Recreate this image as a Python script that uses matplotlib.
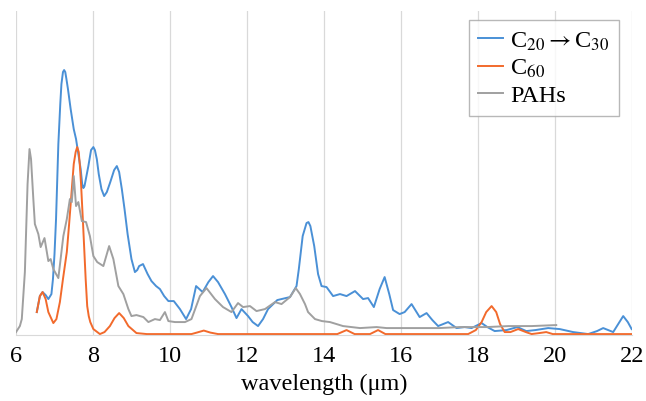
import matplotlib
matplotlib.use("Agg")
import matplotlib.pyplot as plt

lam_c20 = [6.54, 6.62, 6.69, 6.77, 6.84, 6.92, 6.96, 7.0, 7.04, 7.1, 7.15, 7.18, 7.22, 7.25, 7.28,
           7.31, 7.35, 7.42, 7.5, 7.56, 7.62, 7.68, 7.72, 7.75, 7.78, 7.83, 7.88, 7.95, 8.01, 8.05,
           8.1, 8.15, 8.22, 8.29, 8.36, 8.45, 8.55, 8.62, 8.68, 8.75, 8.82, 8.9, 9.0, 9.09, 9.15,
           9.2, 9.3, 9.42, 9.52, 9.64, 9.74, 9.85, 9.96, 10.1, 10.26, 10.42, 10.55, 10.68, 10.85,
           11.0, 11.12, 11.25, 11.43, 11.6, 11.73, 11.86, 12.03, 12.15, 12.29, 12.42, 12.55, 12.79,
           13.12, 13.29, 13.35, 13.45, 13.55, 13.6, 13.65, 13.75, 13.85, 13.94, 14.07, 14.24, 14.42,
           14.59, 14.81, 15.02, 15.15, 15.3, 15.45, 15.58, 15.7, 15.8, 15.97, 16.1, 16.28, 16.49,
           16.67, 16.82, 16.97, 17.1, 17.23, 17.45, 17.66, 17.84, 18.1, 18.25, 18.44, 18.75, 19.03,
           19.26, 19.5, 19.83, 20.13, 20.48, 20.87, 21.1, 21.26, 21.52, 21.65, 21.78, 21.9, 22.0]
int_c20 = [22, 38, 42, 39, 35, 40, 55, 80, 115, 190, 230, 250, 262, 264, 262,
           255, 245, 225, 205, 195, 180, 165, 150, 146, 148, 158, 168, 184, 187, 184,
           175, 160, 145, 138, 142, 152, 164, 168, 162, 145, 125, 100, 75, 62, 64,
           68, 70, 60, 53, 48, 45, 38, 33, 33, 25, 15, 25, 48, 42,
           52, 58, 52, 40, 27, 16, 25, 18, 12, 8, 15, 25, 34,
           37, 48, 65, 98, 111, 112, 108, 88, 60, 48, 47, 38, 40,
           38, 43, 35, 36, 27, 45, 57, 40, 24, 20, 22, 30, 17,
           21, 14, 8, 10, 12, 6, 7, 6, 11, 7, 3, 4, 7,
           3, 4, 6, 5, 2, 0, 3, 6, 2, 10, 18, 12, 5]

lam_c60 = [6.54, 6.62, 6.69, 6.77, 6.84, 6.97, 7.05, 7.14, 7.22, 7.32, 7.38, 7.45, 7.5, 7.55, 7.59,
           7.63, 7.66, 7.69, 7.74, 7.81, 7.85, 7.89, 7.93, 8.01, 8.18, 8.3, 8.44, 8.56, 8.68, 8.8,
           8.92, 9.13, 9.4, 10.56, 10.7, 10.88, 11.05, 11.25, 14.35, 14.59, 14.8, 15.2, 15.41, 15.6,
           17.75, 17.95, 18.1, 18.22, 18.36, 18.48, 18.58, 18.7, 18.85, 19.05, 19.25, 19.4, 19.6,
           19.78, 19.95, 22.0]
int_c60 = [22, 38, 42, 35, 22, 11, 15, 32, 55, 82, 110, 145, 170, 182, 187,
           182, 168, 150, 112, 55, 28, 18, 12, 5, 0, 2, 8, 16, 21, 16,
           8, 1, 0, 0, 1.5, 3.5, 1.5, 0, 0, 4, 0, 0, 4, 0,
           0, 4, 12, 22, 28, 22, 10, 2, 2, 5, 2, 0, 1,
           2, 0, 0]

lam_pah = [6.0, 6.1, 6.15, 6.23, 6.3, 6.35, 6.39, 6.45, 6.49, 6.58, 6.64, 6.74, 6.84, 6.9, 6.97,
           7.1, 7.23, 7.32, 7.4, 7.45, 7.5, 7.56, 7.62, 7.71, 7.82, 7.92, 8.01, 8.11, 8.27, 8.42,
           8.53, 8.66, 8.79, 8.92, 9.0, 9.13, 9.31, 9.44, 9.61, 9.74, 9.87, 9.96, 10.13, 10.39,
           10.56, 10.78, 10.95, 11.17, 11.38, 11.6, 11.77, 11.9, 12.08, 12.25, 12.47, 12.73, 12.9,
           13.12, 13.27, 13.38, 13.51, 13.59, 13.77, 13.95, 14.16, 14.5, 14.94, 15.37, 15.63, 16.0,
           16.49, 17.0, 17.53, 18.23, 18.8, 19.4, 20.04]
int_pah = [2, 8, 15, 62, 150, 185, 175, 135, 110, 100, 87, 96, 73, 75, 65,
           56, 98, 115, 135, 132, 158, 128, 132, 113, 112, 98, 78, 72, 68, 88,
           75, 48, 40, 25, 18, 19, 17, 12, 15, 14, 22, 13, 12, 12,
           15, 38, 46, 35, 27, 22, 31, 27, 28, 23, 25, 32, 30,
           37, 46, 40, 30, 22, 15, 13, 12, 8, 6, 7, 6, 6,
           6, 6, 7, 7, 8, 8, 9]

xticks = [6, 8, 10, 12, 14, 16, 18, 20, 22]

plt.rcParams['font.family'] = ['Liberation Serif', 'DejaVu Serif']
plt.rcParams['mathtext.fontset'] = 'stix'

fig = plt.figure(figsize=(6.46, 4.02), dpi=100)
ax = fig.add_axes([0.0248, 0.164, 0.953, 0.806])

ax.plot(lam_c20, int_c20, color='#4a90d6', lw=1.4, label=r'C$_{20}$$\rightarrow$C$_{30}$')
ax.plot(lam_c60, int_c60, color='#f26a2c', lw=1.4, label=r'C$_{60}$')
ax.plot(lam_pah, int_pah, color='#a0a0a0', lw=1.4, label='PAHs')

ax.set_xlim(6, 22)
ax.set_ylim(-1, 323)
ax.set_xticks(xticks)
ax.set_yticks([])
ax.grid(axis='x', color='#d9d9d9', lw=0.9)
ax.set_axisbelow(True)
for s in ['left', 'top', 'right']:
    ax.spines[s].set_visible(False)
ax.spines['bottom'].set_color('#d9d9d9')
ax.tick_params(axis='x', length=0, pad=7, labelsize=17.5)
ax.set_xlabel('wavelength (μm)', fontsize=17.5, labelpad=5)

leg = ax.legend(loc='upper right', bbox_to_anchor=(0.979, 0.972), fontsize=17.5,
                handlelength=1.0, handletextpad=0.3, labelspacing=0.2,
                fancybox=False, borderpad=0.4, borderaxespad=0.0)
leg.get_frame().set_edgecolor('#a6a6a6')
leg.get_frame().set_linewidth(1.0)

fig.savefig('out.png', dpi=100)
